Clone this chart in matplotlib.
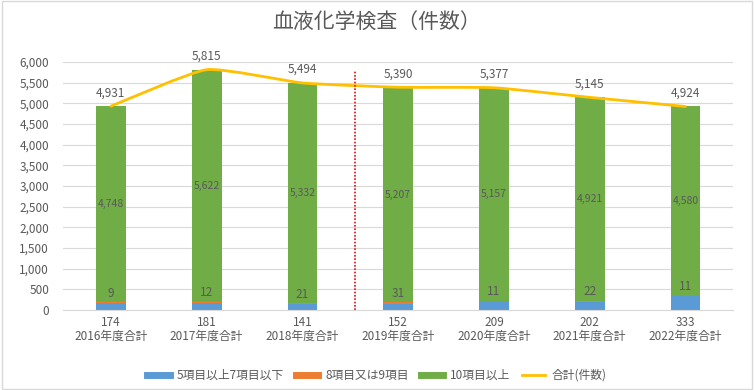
import numpy as np
import matplotlib.pyplot as plt
from matplotlib.patches import Rectangle, PathPatch
from matplotlib.path import Path
from matplotlib.lines import Line2D

plt.rcParams['font.family'] = ['Noto Sans CJK JP', 'DejaVu Sans']

years  = ['2016年度合計', '2017年度合計', '2018年度合計', '2019年度合計',
          '2020年度合計', '2021年度合計', '2022年度合計']
low    = [174, 181, 141, 152, 209, 202, 333]      # 5項目以上7項目以下
mid    = [9, 12, 21, 31, 11, 22, 11]              # 8項目又は9項目
high   = [4748, 5622, 5332, 5207, 5157, 4921, 4580]  # 10項目以上
total  = [4931, 5815, 5494, 5390, 5377, 5145, 4924]

c_low, c_mid, c_high, c_tot = '#5B9BD5', '#ED7D31', '#70AD47', '#FFC000'
txt = '#595959'

low = np.array(low); mid = np.array(mid); high = np.array(high)
x = np.arange(len(years))
w = 0.31

fig = plt.figure(figsize=(7.54, 3.90), dpi=100)
fig.patches.append(Rectangle((0.002, 0.003), 0.995, 0.994, transform=fig.transFigure,
                             fill=False, edgecolor='#D9D9D9', lw=1))
ax = fig.add_axes([0.0836, 0.205, 0.889, 0.636])

ax.bar(x, low, w, color=c_low, zorder=2)
ax.bar(x, mid, w, bottom=low, color=c_mid, zorder=2)
ax.bar(x, high, w, bottom=low + mid, color=c_high, zorder=2)

# lightly smoothed total line, Bezier through the data points
pts = np.column_stack([x, total]).astype(float)
ext = np.vstack([pts[0], pts, pts[-1]])
k = 12
verts, codes = [pts[0]], [Path.MOVETO]
for i in range(len(pts) - 1):
    p0, p1, p2, p3 = ext[i], ext[i + 1], ext[i + 2], ext[i + 3]
    verts += [p1 + (p2 - p0) / k, p2 - (p3 - p1) / k, p2]
    codes += [Path.CURVE4] * 3
ax.add_patch(PathPatch(Path(verts, codes), fill=False, edgecolor=c_tot, lw=2,
                       zorder=3, capstyle='round', joinstyle='round'))

for i in range(len(x)):
    ax.text(x[i], low[i] + mid[i] + high[i] / 2, f'{high[i]:,}', ha='center',
            va='center', fontsize=7.5, color=txt, zorder=4)
    ax.annotate(f'{mid[i]}', (x[i], low[i] + mid[i]), xytext=(0, 2),
                textcoords='offset points', ha='center', va='bottom',
                fontsize=8.5, color=txt, zorder=4)
    ax.annotate(f'{total[i]:,}', (x[i], total[i]), xytext=(0, 5),
                textcoords='offset points', ha='center', va='bottom',
                fontsize=8.5, color=txt, annotation_clip=False)

# divider between 2018 and 2019
ax.plot([2.55, 2.55], [0, 5800], color='#FF0000', ls=(0, (1, 1)), lw=1.2, zorder=3)

ax.set_xlim(-0.5, 6.5)
ax.set_ylim(0, 6000)
ax.set_yticks(np.arange(0, 6001, 500))
ax.yaxis.set_major_formatter(plt.FuncFormatter(lambda v, p: f'{int(v):,}'))
ax.set_xticks(x)
ax.set_xticklabels([f'{a}\n{b}' for a, b in zip(low, years)], linespacing=1.15)
ax.tick_params(axis='both', length=0, labelsize=8.5, colors=txt)
ax.tick_params(axis='y', pad=10)
ax.tick_params(axis='x', pad=4)
ax.grid(axis='y', color='#D9D9D9', lw=0.8, zorder=0)
for s in ['top', 'right', 'left']:
    ax.spines[s].set_visible(False)
ax.spines['bottom'].set_color('#D9D9D9')

fig.text(0.5, 0.945, '血液化学検査（件数）', ha='center', va='center',
         fontsize=15, color=txt)

handles = [Line2D([], [], color=c_low, lw=5),
           Line2D([], [], color=c_mid, lw=5),
           Line2D([], [], color=c_high, lw=5),
           Line2D([], [], color=c_tot, lw=2)]
labels = ['5項目以上7項目以下', '8項目又は9項目', '10項目以上', '合計(件数)']
fig.legend(handles, labels, loc='center', bbox_to_anchor=(0.5, 0.038), ncol=4,
           frameon=False, fontsize=8.5, labelcolor=txt, handlelength=1.9,
           columnspacing=1.0, handletextpad=0.6)

plt.savefig('out.png', dpi=100)
